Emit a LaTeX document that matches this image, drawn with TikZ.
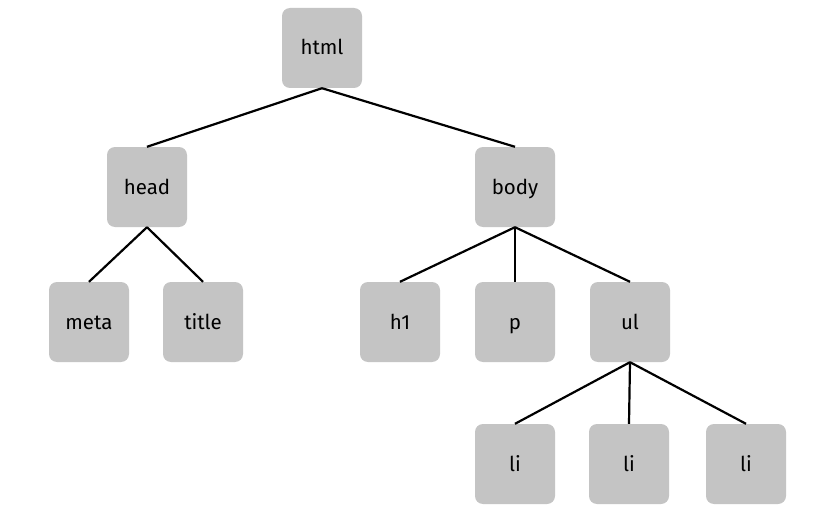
\documentclass[tikz,border=0pt]{standalone}
\usepackage{fontspec}
\setmainfont{Fira Sans}
\begin{document}
\begin{tikzpicture}[x=1pt,y=-1pt,
  tag/.style={fill=boxgray, rounded corners=8pt, minimum width=80pt, minimum height=80pt,
    inner sep=0pt, text height=14pt, text depth=0pt, font=\fontsize{20.5}{22}\selectfont, text=black},
  link/.style={draw=black, line width=2.2pt}]
\definecolor{boxgray}{HTML}{C4C4C4}
\useasboundingbox (0,0) rectangle (815,519);
\fill[white] (0,0) rectangle (815,519);
\node[tag] (html) at (322,48) {html};
\node[tag] (head) at (147,187) {head};
\node[tag] (body) at (515,187) {body};
\node[tag] (meta) at (89,322) {meta};
\node[tag] (title) at (203,322) {title};
\node[tag] (h1) at (400,322) {h1};
\node[tag] (p) at (515,322) {p};
\node[tag] (ul) at (630,322) {ul};
\node[tag] (li1) at (515,464) {li};
\node[tag] (li2) at (629,464) {li};
\node[tag] (li3) at (746,464) {li};
\draw[link] (html.south) -- (head.north);
\draw[link] (html.south) -- (body.north);
\draw[link] (head.south) -- (meta.north);
\draw[link] (head.south) -- (title.north);
\draw[link] (body.south) -- (h1.north);
\draw[link] (body.south) -- (p.north);
\draw[link] (body.south) -- (ul.north);
\draw[link] (ul.south) -- (li1.north);
\draw[link] (ul.south) -- (li2.north);
\draw[link] (ul.south) -- (li3.north);
\end{tikzpicture}
\end{document}
